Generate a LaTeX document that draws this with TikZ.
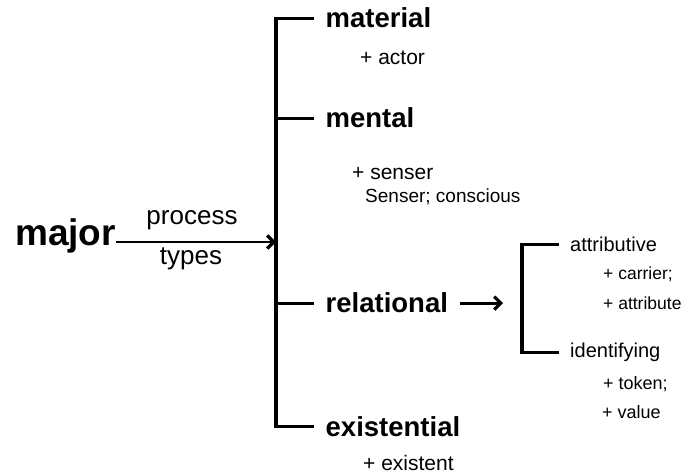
\documentclass[tikz,border=0pt]{standalone}
\usepackage{fontspec}
\setmainfont{Liberation Sans}
\usetikzlibrary{arrows.meta}

\tikzset{
  bracket/.style = {line width = 3.2pt},
  arr/.style = {line width = 2.8pt, -{Straight Barb[length = 6.5pt, width = 13pt, line width = 3.2pt]}},
  cat/.style = {anchor = base west, inner ysep = 0pt, inner xsep = 11.5pt, font = \fontsize{27.5}{30}\selectfont\bfseries},
  subcat/.style = {anchor = base west, inner ysep = 0pt, inner xsep = 11.5pt, font = \fontsize{20}{22}\selectfont},
  note/.style = {anchor = base west, inner sep = 0pt},
  big/.style = {font = \fontsize{21}{23}\selectfont},
  small/.style = {font = \fontsize{17.5}{19}\selectfont}
}

\begin{document}
\begin{tikzpicture}[x = 1pt, y = -1pt]
\useasboundingbox (0,0) rectangle (681,473);

\node[note, font = \fontsize{37}{40}\selectfont\bfseries] (major) at (15,246) {major};
\node[anchor = base, inner sep = 0pt, font = \fontsize{26}{28}\selectfont] (process) at (192,225) {process};
\node[anchor = base, inner sep = 0pt, font = \fontsize{26}{28}\selectfont] (types) at (191,265) {types};
\coordinate (hub) at (276,242);

\node[cat] (material) at (314,28) {material};
\node[cat] (mental) at (314,128) {mental};
\node[cat] (relational) at (314,313) {relational};
\node[cat] (existential) at (314,436) {existential};

\node[note, big] (actor) at (360,65) {+ actor};
\node[note, big] (senser) at (352,180) {+ senser};
\node[note, font = \fontsize{19}{21}\selectfont] (conscious) at (365,203) {Senser; conscious};
\node[note, big] (existent) at (363,470) {+ existent};

\coordinate (subhub) at (522,305);
\node[subcat] (attributive) at (558.5,252) {attributive};
\node[subcat] (identifying) at (558.5,358) {identifying};
\node[note, small] (carrier) at (603,280) {+ carrier;};
\node[note, small] (attribute) at (603,310) {+ attribute};
\node[note, font = \fontsize{18}{20}\selectfont] (token) at (603,390) {+ token;};
\node[note, font = \fontsize{18}{20}\selectfont] (value) at (602,418) {+ value};

\draw[arr] (major.east |- hub) -- (hub);
\draw[bracket] (material.west) -- (material.west -| hub) -- (existential.west -| hub) -- (existential.west);
\draw[bracket] (mental.west -| hub) -- (mental.west);
\draw[bracket] (relational.west -| hub) -- (relational.west);

\draw[arr] (relational.east) -- ([xshift = -19pt]relational.east -| subhub);
\draw[bracket] (attributive.west) -- (attributive.west -| subhub) -- (identifying.west -| subhub) -- (identifying.west);
\end{tikzpicture}
\end{document}
